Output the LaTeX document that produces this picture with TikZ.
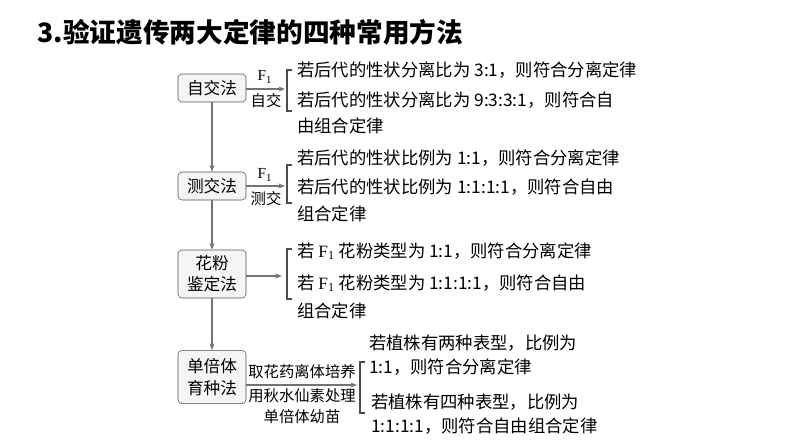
\documentclass[tikz,border=0pt]{standalone}
\usepackage{fontspec}
\setmainfont{Noto Sans CJK SC}
\newfontfamily\lat{Liberation Serif}
\usetikzlibrary{arrows.meta}
\begin{document}
\begin{tikzpicture}[x=0.75pt,y=-0.75pt,
 box/.style={draw=black!70,rounded corners=3pt,fill=black!4,minimum width=51pt,align=center,font=\fontsize{12.5}{16}\selectfont,inner sep=2pt},
 txt/.style={anchor=west,font=\fontsize{13}{15}\selectfont,inner sep=0pt},
 lab/.style={font=\fontsize{11.5}{14}\selectfont,inner sep=0pt},
 arr/.style={draw=black!55,thick,-{Stealth[length=5pt]}},
 br/.style={draw=black!70,thick}]
\useasboundingbox (0,0) rectangle (794,447);
\node[anchor=west,font=\fontsize{20}{24}\selectfont\bfseries] (t) at (33,32) {3.验证遗传两大定律的四种常用方法};
\node[box,minimum height=21pt] (a) at (212,88) {自交法};
\node[box,minimum height=21pt] (b) at (212,186) {测交法};
\node[box,minimum height=36pt] (c) at (212,274) {花粉\\鉴定法};
\node[box,minimum height=40pt] (d) at (212,377) {单倍体\\育种法};
\draw[arr] (a) -- (b); \draw[arr] (b) -- (c); \draw[arr] (c) -- (d);
% branch 1
\coordinate (a1) at (285,89);
\draw[arr] (a.east|-a1) -- (a1);
\node[lab] (al1) at (265,77) {\lat F\textsubscript{1}};
\node[lab] (al2) at (266,101) {自交};
\draw[br] (292,70) -- (287,70) -- (287,111) -- (292,111);
\node[txt] (a2) at (297,70) {若后代的性状分离比为 3:1，则符合分离定律};
\node[txt] (a3) at (297,100) {若后代的性状分离比为 9:3:3:1，则符合自};
\node[txt] (a4) at (297,126) {由组合定律};
% branch 2
\coordinate (b1) at (285,186);
\draw[arr] (b.east|-b1) -- (b1);
\node[lab] (bl1) at (265,175) {\lat F\textsubscript{1}};
\node[lab] (bl2) at (266,199) {测交};
\draw[br] (292,165) -- (287,165) -- (287,203) -- (292,203);
\node[txt] (b2) at (297,158) {若后代的性状比例为 1:1，则符合分离定律};
\node[txt] (b3) at (297,187) {若后代的性状比例为 1:1:1:1，则符合自由};
\node[txt] (b4) at (297,214) {组合定律};
% branch 3
\coordinate (c1) at (282,276);
\draw[arr] (c.east|-c1) -- (c1);
\draw[br] (292,249) -- (287,249) -- (287,299) -- (292,299);
\node[txt] (c2) at (297,251) {若 \lat F\textsubscript{1}\rm\ 花粉类型为 1:1，则符合分离定律};
\node[txt] (c3) at (297,283) {若 \lat F\textsubscript{1}\rm\ 花粉类型为 1:1:1:1，则符合自由};
\node[txt] (c4) at (297,311) {组合定律};
% branch 4
\coordinate (d1) at (357,385);
\draw[arr] (d.east|-d1) -- (d1);
\node[lab] (dl1) at (302,372) {取花药离体培养};
\node[lab] (dl2) at (302,396) {用秋水仙素处理};
\node[lab] (dl3) at (302,417) {单倍体幼苗};
\draw[br] (365,362) -- (360,362) -- (360,413) -- (365,413);
\node[txt] (d2) at (369,343) {若植株有两种表型，比例为};
\node[txt] (d3) at (369,367) {1:1，则符合分离定律};
\node[txt] (d4) at (371,402) {若植株有四种表型，比例为};
\node[txt] (d5) at (371,426) {1:1:1:1，则符合自由组合定律};
\end{tikzpicture}
\end{document}
